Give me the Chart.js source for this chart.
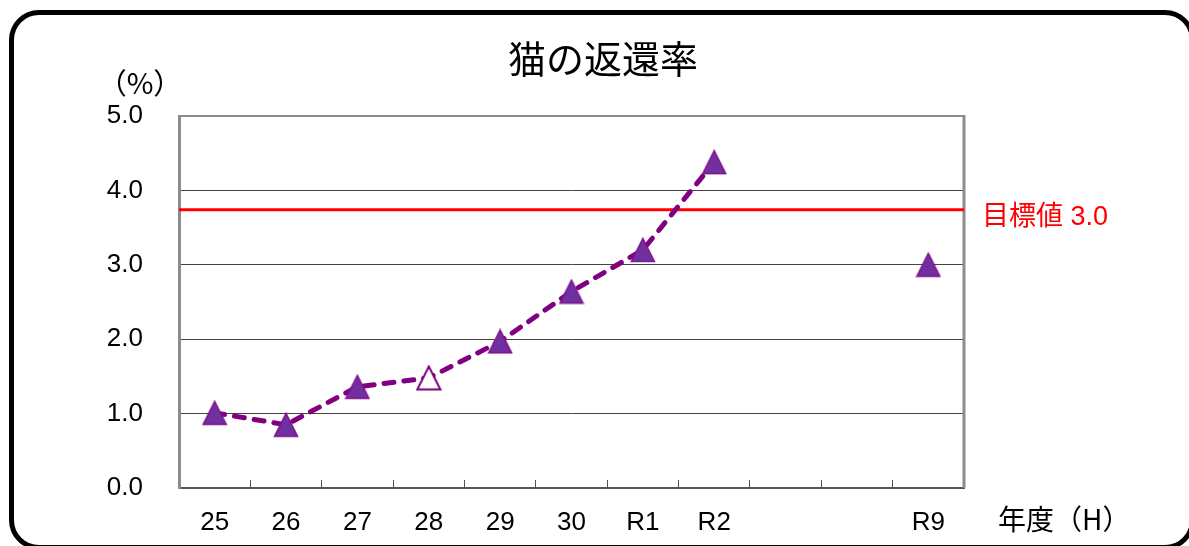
<!DOCTYPE html>
<html>
<head>
<meta charset="utf-8">
<script src="https://cdn.jsdelivr.net/npm/chart.js@4"></script>
<style>
  body { margin: 0; background: #fff; }
  #wrap { position: relative; width: 1189px; height: 546px; overflow: hidden; }
  #frame { position: absolute; left: 9px; top: 10px; width: 1186px; height: 540px;
           border: 5px solid #000; border-radius: 30px; box-sizing: border-box; }
  canvas { position: absolute; left: 0; top: 0; }
  .txt { position: absolute; font-family: "Noto Sans CJK JP", "Liberation Sans", sans-serif; color: #000; white-space: nowrap; line-height: 1; }
  #title { left: 603px; top: 38px; font-size: 38px; transform: translateX(-50%); }
  #unit { left: 140px; top: 67px; font-size: 29px; transform: translateX(-50%); }
  #xname { left: 998px; top: 504px; font-size: 28px; }
</style>
</head>
<body>
<div id="wrap">
  <div id="frame"></div>
  <canvas id="myChart" width="1189" height="546"></canvas>
  <div class="txt" id="title">猫の返還率</div>
  <div class="txt" id="unit">（%）</div>
  <div class="txt" id="xname">年度（H）</div>
</div>
<script>
// 年度 (two empty slots between R2 and R9)
const years = ['25', '26', '27', '28', '29', '30', 'R1', 'R2', '', '', 'R9'];
const returnRate = [1.01, 0.85, 1.36, 1.48, 1.97, 2.64, 3.20, 4.38, null, null, 3.00];
const hollowYears = ['28'];
const yTicks = [0, 1, 2, 3, 4, 5];
const targetLine = 3.74;
const targetLabel = '目標値 3.0';

const tickFont = { family: '"Liberation Sans", Arial, sans-serif', size: 26 };

function makeTriangle(fill, stroke, lw) {
    const c = document.createElement('canvas');
    c.width = 26;
    c.height = 26;
    const g = c.getContext('2d');
    g.beginPath();
    g.moveTo(13, 1.5);
    g.lineTo(24.5, 24.5);
    g.lineTo(1.5, 24.5);
    g.closePath();
    g.fillStyle = fill;
    g.fill();
    g.lineWidth = lw;
    g.strokeStyle = stroke;
    g.stroke();
    return c;
}

const solidMark = makeTriangle('#7030a0', '#80108a', 1.5);
const hollowMark = makeTriangle('#ffffff', '#800080', 2);
const markStyles = years.map(y => hollowYears.includes(y) ? hollowMark : solidMark);

// target line, its label and the gray top/right border of the plot
const extras = {
    id: 'extras',
    beforeDatasetsDraw(chart) {
        const ctx = chart.ctx;
        const area = chart.chartArea;
        ctx.save();
        ctx.strokeStyle = '#8c8c8c';
        ctx.lineWidth = 2;
        ctx.beginPath();
        ctx.moveTo(area.left, area.top);
        ctx.lineTo(area.right, area.top);
        ctx.stroke();
        ctx.lineWidth = 3;
        ctx.beginPath();
        ctx.moveTo(area.right, area.top - 1);
        ctx.lineTo(area.right, area.bottom);
        ctx.stroke();

        const y = chart.scales.y.getPixelForValue(targetLine);
        ctx.strokeStyle = '#ff0000';
        ctx.lineWidth = 3;
        ctx.beginPath();
        ctx.moveTo(area.left, y);
        ctx.lineTo(area.right, y);
        ctx.stroke();

        ctx.fillStyle = '#ff0000';
        ctx.font = '27px "Liberation Sans", "Noto Sans CJK JP", sans-serif';
        ctx.textBaseline = 'middle';
        ctx.fillText(targetLabel, area.right + 18, y + 8);
        ctx.restore();
    }
};

const ctx = document.getElementById('myChart').getContext('2d');
const myChart = new Chart(ctx, {
    type: 'line',
    data: {
        labels: years,
        datasets: [{
            label: '返還率',
            data: returnRate,
            borderColor: '#800080',
            borderWidth: 5,
            borderDash: [10, 10],
            borderCapStyle: 'round',
            tension: 0,
            spanGaps: false,
            pointStyle: markStyles,
            pointRadius: 12,
            pointHoverRadius: 12
        }]
    },
    options: {
        responsive: false,
        animation: false,
        layout: {
            padding: { left: 0, right: 225, top: 116, bottom: 0 }
        },
        scales: {
            x: {
                offset: true,
                grid: {
                    offset: true,
                    drawOnChartArea: false,
                    drawTicks: true,
                    tickLength: -8,
                    tickColor: '#555',
                    color: '#555'
                },
                border: { color: '#555', width: 2 },
                ticks: {
                    color: '#000',
                    font: tickFont,
                    padding: 27,
                    autoSkip: false,
                    maxRotation: 0
                },
                afterFit(scale) { scale.height = 58; }
            },
            y: {
                min: 0,
                max: 5,
                afterBuildTicks(scale) { scale.ticks = yTicks.map(v => ({ value: v })); },
                grid: { color: '#444', lineWidth: 1, drawTicks: false },
                border: { color: '#8c8c8c', width: 3 },
                ticks: {
                    color: '#000',
                    font: tickFont,
                    padding: 36,
                    callback: v => v.toFixed(1)
                },
                afterFit(scale) { scale.width = 179; }
            }
        },
        plugins: {
            legend: { display: false },
            tooltip: { enabled: false },
            title: { display: false }
        }
    },
    plugins: [extras]
});
</script>
</body>
</html>
